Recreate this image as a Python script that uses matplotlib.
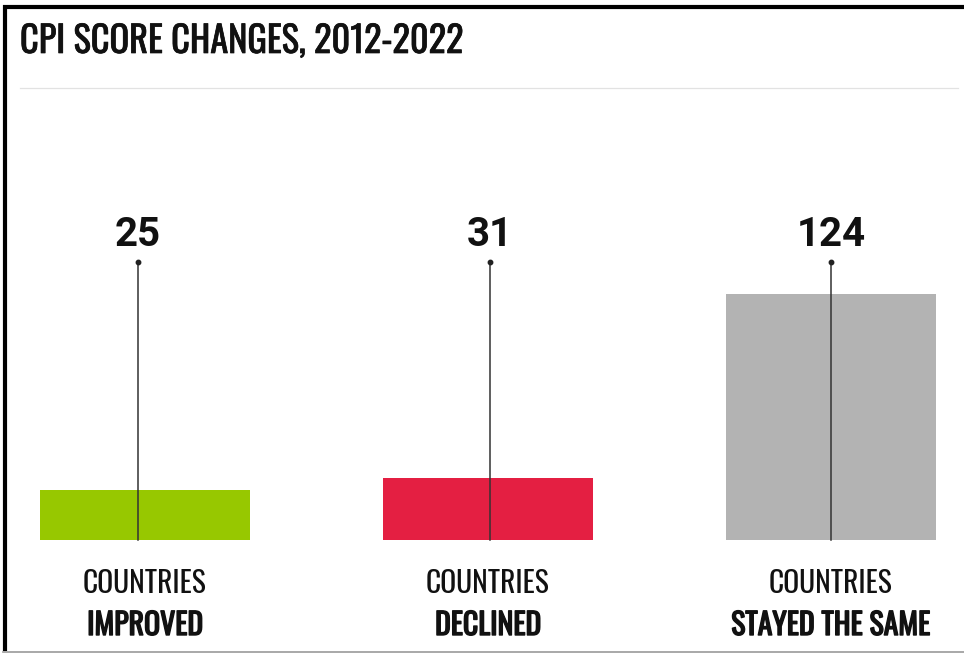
import matplotlib.pyplot as plt
from matplotlib.lines import Line2D
import matplotlib.patheffects as pe

title = "CPI SCORE CHANGES, 2012-2022"
counts = [25, 31, 124]
line1 = ["COUNTRIES", "COUNTRIES", "COUNTRIES"]
line2 = ["IMPROVED", "DECLINED", "STAYED THE SAME"]
colors = ["#97c800", "#e41f42", "#b3b3b3"]

W, H = 964, 654
cond = ["Oswald", "DejaVu Sans"]
ink = "#111111"

fig = plt.figure(figsize=(W / 100, H / 100), dpi=100)

def fy(px):
    return 1 - px / H

# frame around the card
fig.add_artist(Line2D([3 / W, 1], [fy(7), fy(7)], color="black", lw=3, solid_capstyle="butt"))
fig.add_artist(Line2D([5 / W, 5 / W], [fy(5), fy(651)], color="black", lw=3, solid_capstyle="butt"))
fig.add_artist(Line2D([3 / W, 1], [fy(651.5), fy(651.5)], color="#999999", lw=1.2))
fig.add_artist(Line2D([20 / W, 958 / W], [fy(88), fy(88)], color="#e2e2e2", lw=0.9))

# Oswald is only available in regular weight here, so thicken with a stroke
semi = [pe.withStroke(linewidth=0.5, foreground=ink)]
heavy = [pe.withStroke(linewidth=1.0, foreground=ink)]

fig.text(20 / W, fy(53), title, family=cond, fontsize=26.2, color=ink,
         va="baseline", ha="left", path_effects=semi)

# plotting area: bottom at baseline of bars, top at stem tips
ytop = 140
scale = 1.984  # px per unit
ax = fig.add_axes([20 / W, fy(540), 938 / W, ytop * scale / H])
ax.set_xlim(-0.3644, 2.3703)
ax.set_ylim(0, ytop)
ax.axis("off")

x = list(range(len(counts)))
ax.bar(x, counts, width=0.615, color=colors, zorder=1)

stem_shift = [-0.02, 0.006, 0.0]
for i, v in enumerate(counts):
    xs = x[i] + stem_shift[i]
    ax.plot([xs, xs], [0, ytop], color="#333333", lw=1.1, zorder=2, clip_on=False)
    ax.plot([xs], [ytop], "o", color="#222222", ms=3.2, zorder=3, clip_on=False)
    ax.annotate(str(v), (xs, ytop), xytext=(0, 6), textcoords="offset points",
                ha="center", va="bottom", family="Roboto", fontweight="bold",
                fontsize=29, color=ink)
    ax.annotate(line1[i], (x[i], 0), xytext=(0, -38.2), textcoords="offset points",
                ha="center", va="baseline", family=cond, fontsize=21.3, color=ink)
    ax.annotate(line2[i], (x[i], 0), xytext=(0, -68.4), textcoords="offset points",
                ha="center", va="baseline", family=cond, fontsize=21.5, color=ink,
                path_effects=heavy)

fig.savefig("out.png", dpi=100)
